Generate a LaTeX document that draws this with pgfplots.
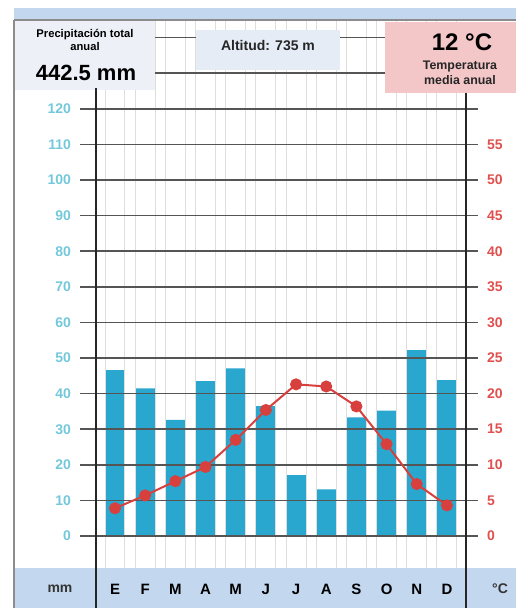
\documentclass[border=0pt]{standalone}
\usepackage{pgfplots}
\pgfplotsset{compat=1.18}
\usepackage{fontspec}
\setmainfont{Liberation Sans}
\definecolor{barblue}{HTML}{2AA7CF}
\definecolor{cyanlab}{HTML}{74C8DC}
\definecolor{redlab}{HTML}{E0504E}
\definecolor{redline}{HTML}{D8403E}
\definecolor{band}{HTML}{C3D8EF}
\definecolor{boxgray}{HTML}{EDF1F7}
\definecolor{boxmid}{HTML}{E5ECF5}
\definecolor{boxpink}{HTML}{F3C6C8}
\definecolor{gridc}{HTML}{555555}
\begin{document}
\begin{tikzpicture}
\useasboundingbox (0,0) rectangle (258pt,304pt);
% precipitation axis
\begin{axis}[
  at={(40pt,0pt)}, anchor=south west,
  scale only axis, width=199pt, height=294pt,
  xmin=-1.16, xmax=12.03, ymin=-20.22, ymax=144.94,
  axis line style={draw=none},
  axis on top,
  /pgf/number format/assume math mode=true,
  major tick length=0pt,
  xtick={-0.33,0.33,0.67,1.33,1.67,2.33,2.67,3.33,3.67,4.33,4.67,5.33,5.67,6.33,6.67,7.33,7.67,8.33,8.67,9.33,9.67,10.33,10.67,11.33},
  xticklabels={},
  xmajorgrids, x grid style={black!13, line width=0.5pt},
  ytick={0,10,...,120},
  extra y ticks={130,140}, extra y tick labels={},
  extra y tick style={grid=major},
  ymajorgrids, y grid style={gridc, line width=0.75pt},
  yticklabel style={text=cyanlab, font=\bfseries\fontsize{7}{8}\selectfont, xshift=-1pt},
  ybar, bar width=0.66,
]
\addplot[fill=barblue, draw=none] coordinates {
(0,46.6) (1,41.5) (2,32.6) (3,43.5) (4,47.1) (5,36.5)
(6,17.1) (7,13.1) (8,33.3) (9,35.2) (10,52.2) (11,43.8)};
\end{axis}
% temperature axis
\begin{axis}[
  at={(40pt,0pt)}, anchor=south west,
  scale only axis, width=199pt, height=294pt,
  xmin=-1.16, xmax=12.03, ymin=-10.11, ymax=72.47,
  axis line style={draw=none},
  /pgf/number format/assume math mode=true,
  major tick length=0pt, minor tick length=0pt,
  xtick=\empty,
  ytick={0,5,...,55},
  yticklabel pos=right,
  yticklabel style={text=redlab, font=\bfseries\fontsize{7}{8}\selectfont, xshift=1pt},
]
\addplot[redline, line width=1pt, mark=*, mark size=2.5pt, mark options={fill=redline, draw=redline}] coordinates {
(0,3.9) (1,5.7) (2,7.7) (3,9.7) (4,13.5) (5,17.7)
(6,21.3) (7,21.0) (8,18.2) (9,12.9) (10,7.3) (11,4.3)};
\end{axis}
\begin{scope}[x=0.5pt,y=-0.5pt,yshift=304pt]
% top band
\fill[band] (14,8) rectangle (516,20);
% header boxes
\fill[boxgray] (14,20) rectangle (155,90);
\fill[boxmid] (196,30) rectangle (340,70);
\fill[boxpink] (385,22) rectangle (516,93);
\node[font=\bfseries\fontsize{5.6}{6.5}\selectfont, align=center] at (85,40) {Precipitación total\\anual};
\node[font=\bfseries\fontsize{11}{12}\selectfont] at (86,73) {442.5 mm};
\node[font=\bfseries\fontsize{7}{8}\selectfont, text=black!85] at (268,46) {Altitud: 735 m};
\node[font=\bfseries\fontsize{12}{13}\selectfont] at (462,42) {12 °C};
\node[font=\bfseries\fontsize{6.2}{7.8}\selectfont, align=center, text=black!85] at (460,73) {Temperatura\\media anual};
% bottom band
\fill[band] (14,568) rectangle (516,608);
\node[font=\bfseries\fontsize{7}{8}\selectfont, text=black!80] at (60,589) {mm};
\node[font=\bfseries\fontsize{7}{8}\selectfont, text=black!80] at (500,589) {°C};
\foreach \m [count=\i from 0] in {E,F,M,A,M,J,J,A,S,O,N,D}
  \node[font=\bfseries\fontsize{7.5}{8}\selectfont] at (115+30.18*\i,589) {\m};
% frame lines
\draw[black!45, line width=0.6pt] (14,20) -- (14,608);
\draw[black!45, line width=0.6pt] (14,20) -- (516,20);
\draw[black!85, line width=0.9pt] (96,88) -- (96,608);
\draw[black!85, line width=0.9pt] (466,93) -- (466,608);
\end{scope}
\end{tikzpicture}
\end{document}
